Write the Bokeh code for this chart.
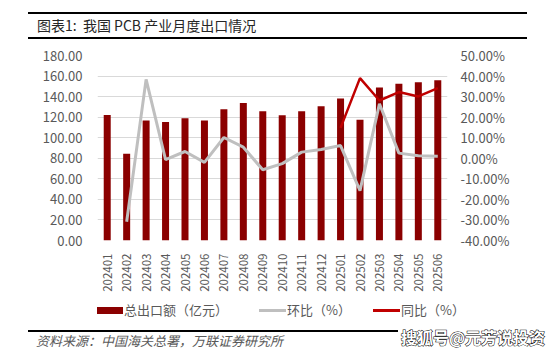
import math
from bokeh.plotting import figure
from bokeh.layouts import column
from bokeh.models import (Range1d, LinearAxis, FactorRange, Div,
                          FixedTicker, PrintfTickFormatter, ColumnDataSource)
from bokeh.embed import file_html
from bokeh.resources import INLINE

months = ["202401", "202402", "202403", "202404", "202405", "202406", "202407", "202408", "202409",
          "202410", "202411", "202412", "202501", "202502", "202503", "202504", "202505", "202506"]
export_total = [122.0, 84.3, 116.7, 115.4, 119.0, 116.7, 127.7, 133.9, 125.8,
                121.9, 125.8, 130.7, 138.1, 117.4, 148.8, 152.4, 154.0, 156.0]
mom_pct = [float("nan"), -30.9, 38.4, -0.7, 3.3, -2.0, 10.1, 5.4, -5.6,
           -2.6, 3.0, 4.3, 6.2, -15.7, 26.5, 2.5, 1.2, 1.0]
yoy_pct = [float("nan")] * 12 + [14.8, 39.0, 28.1, 32.2, 30.1, 34.1]

left_ticks = list(range(0, 181, 20))
right_ticks = list(range(-40, 51, 10))

title_text = "图表1:  我国 PCB 产业月度出口情况"
source_text = "资料来源：中国海关总署，万联证券研究所"
watermark_text = "搜狐号@元芳说投资"
legend_labels = ["总出口额（亿元）", "环比（%）", "同比（%）"]

FONT = "Noto Sans CJK SC"
GREY_TXT = "#595959"
BAR_COLOR = "#8b0000"
MOM_COLOR = "#bfbfbf"
YOY_COLOR = "#c00000"

src = ColumnDataSource(dict(month=months, total=export_total, mom=mom_pct, yoy=yoy_pct))

p = figure(width=554, height=354, x_range=FactorRange(*months),
           y_range=Range1d(0, 180), output_backend="svg", toolbar_location=None,
           min_border_left=97, min_border_right=107, min_border_top=55, min_border_bottom=114,
           background_fill_color="white", border_fill_color="white", margin=0)
p.outline_line_color = None
p.extra_y_ranges = {"pct": Range1d(-40, 50)}

p.xgrid.grid_line_color = None
p.ygrid.grid_line_color = "#d9d9d9"
p.ygrid.ticker = FixedTicker(ticks=left_ticks)

p.yaxis.ticker = FixedTicker(ticks=left_ticks)
p.yaxis.formatter = PrintfTickFormatter(format="%.2f")

raxis = LinearAxis(y_range_name="pct", ticker=FixedTicker(ticks=right_ticks),
                   formatter=PrintfTickFormatter(format="%.2f%%"))
p.add_layout(raxis, "right")

for ax in [p.yaxis[0], raxis, p.xaxis[0]]:
    ax.axis_line_color = None
    ax.major_tick_line_color = None
    ax.minor_tick_line_color = None
    ax.major_label_text_color = GREY_TXT
    ax.major_label_text_font = FONT
    ax.major_label_text_font_size = "13px"
p.yaxis[0].major_label_standoff = 9
raxis.major_label_standoff = 7
p.xaxis[0].major_label_orientation = math.pi / 2
p.xaxis[0].major_label_standoff = 7
p.xaxis[0].major_label_text_font_size = "11.5px"

p.vbar(x="month", top="total", width=0.36, source=src, fill_color=BAR_COLOR, line_color=None)
p.line(x="month", y="mom", source=src, y_range_name="pct", line_color=MOM_COLOR, line_width=3)
p.line(x="month", y="yoy", source=src, y_range_name="pct", line_color=YOY_COLOR, line_width=2.5)


# title, rules, legend, source line and watermark as a page overlay
def box(left, top, w, h, color):
    return (f'<div style="position:absolute;left:{left}px;top:{top}px;width:{w}px;height:{h}px;'
            f'background:{color};"></div>')


def txt(left, top, s, extra=""):
    return (f'<div style="position:absolute;left:{left}px;top:{top}px;font-family:\'{FONT}\';'
            f'font-size:13px;line-height:18px;color:{GREY_TXT};white-space:nowrap;{extra}">{s}</div>')


overlay_html = (
    '<div style="position:relative;width:554px;height:354px;pointer-events:none;">'
    + box(28, 12, 499, 2, "#000") + box(28, 37, 499, 2, "#000") + box(28, 330, 370, 2, "#000")
    + txt(37, 16, title_text, "font-size:14px;color:#262626;white-space:pre;")
    + box(97, 307, 26, 7, BAR_COLOR) + txt(124, 301, legend_labels[0])
    + box(259, 309, 27, 3, MOM_COLOR) + txt(287, 301, legend_labels[1])
    + box(373, 309, 27, 3, YOY_COLOR) + txt(401, 301, legend_labels[2])
    + txt(36, 332, source_text, "font-style:italic;")
    + '<div style="position:absolute;left:401px;top:327px;font-family:\'Noto Sans CJK SC\';font-size:16px;'
      'font-weight:bold;line-height:20px;color:#fff;white-space:nowrap;'
      '-webkit-text-stroke:1px #000;paint-order:stroke fill;">' + watermark_text + '</div>'
    + '</div>'
)
overlay = Div(text=overlay_html, width=554, height=354, margin=0,
              styles={"position": "absolute", "top": "0px", "left": "0px", "pointer-events": "none"})

layout = column(p, overlay, spacing=0, margin=0)
open("out.html", "w").write(file_html(layout, INLINE))
